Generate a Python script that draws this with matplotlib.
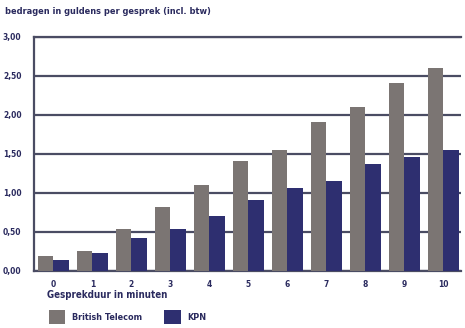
import numpy as np
import matplotlib
matplotlib.use("Agg")
import matplotlib.pyplot as plt

plt.rcParams['font.family'] = ['Liberation Sans Narrow', 'DejaVu Sans']
plt.rcParams['font.stretch'] = 'condensed'

# minuten 0..10, bedragen in guldens per gesprek
minuten = ['0', '1', '2', '3', '4', '5', '6', '7', '8', '9', '10']
british_telecom = [0.18, 0.25, 0.53, 0.81, 1.10, 1.40, 1.55, 1.90, 2.09, 2.40, 2.59]
kpn = [0.13, 0.23, 0.42, 0.53, 0.70, 0.90, 1.06, 1.15, 1.36, 1.46, 1.55]
yticks = [0, 0.5, 1.0, 1.5, 2.0, 2.5, 3.0]
ylabels = ['0,00', '0,50', '1,00', '1,50', '2,00', '2,50', '3,00']

grijs = '#7b7573'
blauw = '#2e2f70'
tekst = '#2a2a5e'
lijn = '#4a4c63'

fig = plt.figure(figsize=(4.65, 3.28), dpi=100)
ax = fig.add_axes([34/465, 1-270.5/328, 427/465, 234/328])

x = np.arange(len(minuten))
w = 0.40
ax.bar(x - w/2, british_telecom, w, color=grijs, label='British Telecom', zorder=3)
ax.bar(x + w/2, kpn, w, color=blauw, label='KPN', zorder=3)

ax.set_xlim(-0.5, 10.45)
ax.set_ylim(0, 3.0)
ax.set_yticks(yticks)
ax.set_yticklabels(ylabels)
ax.set_xticks(x)
ax.set_xticklabels(minuten)
ax.yaxis.grid(True, color=lijn, linewidth=1.6, zorder=1)
ax.tick_params(length=0, labelsize=6, colors=tekst)
ax.tick_params(axis='y', pad=9)
ax.tick_params(axis='x', pad=7)
for lab in ax.get_xticklabels() + ax.get_yticklabels():
    lab.set_fontweight('bold')

for s in ['left', 'top', 'bottom']:
    ax.spines[s].set_color(lijn)
    ax.spines[s].set_linewidth(1.6)
ax.spines['right'].set_visible(False)

fig.text(5/465, 1-12/328, 'bedragen in guldens per gesprek (incl. btw)',
         fontsize=6.6, fontweight='bold', color=tekst, va='center', ha='left')
fig.text(47/465, 1-295/328, 'Gesprekduur in minuten',
         fontsize=7, fontweight='bold', color=tekst, va='center', ha='left')

ax.legend(loc='center left', bbox_to_anchor=(49/465, 1-317/328),
          bbox_transform=fig.transFigure, ncol=2, frameon=False,
          borderpad=0, borderaxespad=0, handlelength=1.8, handleheight=1.9,
          handletextpad=0.8, columnspacing=2.4,
          prop={'size': 6.5, 'weight': 'bold'}, labelcolor=tekst)

fig.savefig('out.png', dpi=100)
